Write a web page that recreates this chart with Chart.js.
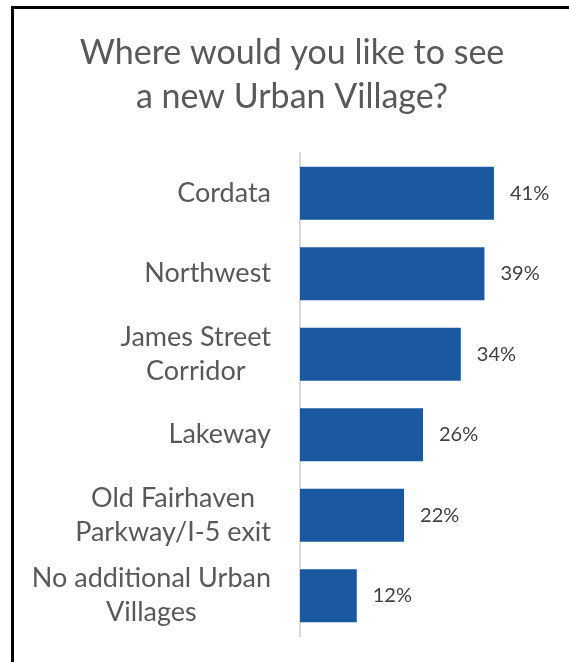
<!DOCTYPE html>
<html>
<head>
<meta charset="utf-8">
<script src="https://cdn.jsdelivr.net/npm/chart.js@4/dist/chart.umd.min.js"></script>
<style>
  html, body { margin: 0; padding: 0; background: #ffffff; }
  #wrap { position: relative; width: 569px; height: 662px; }
</style>
</head>
<body>
<div id="wrap"><canvas id="c" width="569" height="662"></canvas></div>
<script>
// Survey question and answers
const titleLines = ['Where would you like to see', 'a new Urban Village?'];
const categories = [
  ['Cordata'],
  ['Northwest'],
  ['James Street', 'Corridor'],
  ['Lakeway'],
  ['Old Fairhaven', 'Parkway/I-5 exit'],
  ['No additional Urban', 'Villages']
];
const shares = [41, 39, 34, 26, 22, 12];   // percent of respondents
const axisMax = 50;

const FONT = 'Lato, "Open Sans", sans-serif';
const TEXT_GREY = '#595959';
const LABEL_GREY = '#404040';
const BAR_BLUE = '#1A589F';

// White page, black frame, and the two-line question as heading
const framePlugin = {
  id: 'frame',
  beforeDraw(chart) {
    const ctx = chart.ctx;
    ctx.save();
    ctx.fillStyle = '#ffffff';
    ctx.fillRect(0, 0, chart.width, chart.height);
    ctx.strokeStyle = '#000000';
    ctx.lineWidth = 3;
    ctx.beginPath();
    ctx.moveTo(12.5, chart.height);
    ctx.lineTo(12.5, 7.5);
    ctx.lineTo(chart.width, 7.5);
    ctx.stroke();

    ctx.font = '34px ' + FONT;
    ctx.fillStyle = TEXT_GREY;
    ctx.textAlign = 'center';
    ctx.textBaseline = 'alphabetic';
    titleLines.forEach((t, i) => ctx.fillText(t, 292, 64 + i * 44));
    ctx.restore();
  }
};

// Category names: block right-aligned against the axis, lines centred inside the block
const categoryLabelPlugin = {
  id: 'categoryLabels',
  afterDraw(chart) {
    const ctx = chart.ctx;
    const yScale = chart.scales.y;
    const rightEdge = chart.chartArea.left - 29;
    const lineH = 34;
    ctx.save();
    ctx.font = '27px ' + FONT;
    ctx.fillStyle = TEXT_GREY;
    ctx.textAlign = 'center';
    ctx.textBaseline = 'middle';
    categories.forEach((lines, i) => {
      const yc = yScale.getPixelForValue(i);
      const blockW = Math.max(...lines.map(l => ctx.measureText(l).width));
      const xc = rightEdge - blockW / 2;
      const y0 = yc - (lines.length - 1) * lineH / 2;
      lines.forEach((l, k) => ctx.fillText(l, xc, y0 + k * lineH));
    });
    ctx.restore();
  }
};

// Value labels just past the end of each bar
const valueLabelPlugin = {
  id: 'valueLabels',
  afterDatasetsDraw(chart) {
    const ctx = chart.ctx;
    const meta = chart.getDatasetMeta(0);
    const values = chart.data.datasets[0].data;
    ctx.save();
    ctx.font = '20px ' + FONT;
    ctx.fillStyle = LABEL_GREY;
    ctx.textAlign = 'left';
    ctx.textBaseline = 'middle';
    meta.data.forEach((bar, i) => {
      ctx.fillText(values[i] + '%', bar.x + 16, bar.y);
    });
    ctx.restore();
  }
};

new Chart(document.getElementById('c'), {
  type: 'bar',
  data: {
    labels: categories,
    datasets: [{
      data: shares,
      backgroundColor: BAR_BLUE,
      borderWidth: 0,
      barPercentage: 0.66,
      categoryPercentage: 1
    }]
  },
  options: {
    indexAxis: 'y',
    responsive: false,
    animation: false,
    devicePixelRatio: 1,
    layout: { padding: { left: 0, right: 32.5, top: 153, bottom: 26 } },
    plugins: {
      legend: { display: false },
      tooltip: { enabled: false },
      title: { display: false }
    },
    scales: {
      x: {
        display: false,
        min: 0,
        max: axisMax
      },
      y: {
        grid: { display: false, drawTicks: false },
        border: { display: true, color: '#D9D9D9', width: 2 },
        ticks: { display: false },
        afterFit(scale) { scale.width = 300; }
      }
    }
  },
  plugins: [framePlugin, categoryLabelPlugin, valueLabelPlugin]
});
</script>
</body>
</html>
